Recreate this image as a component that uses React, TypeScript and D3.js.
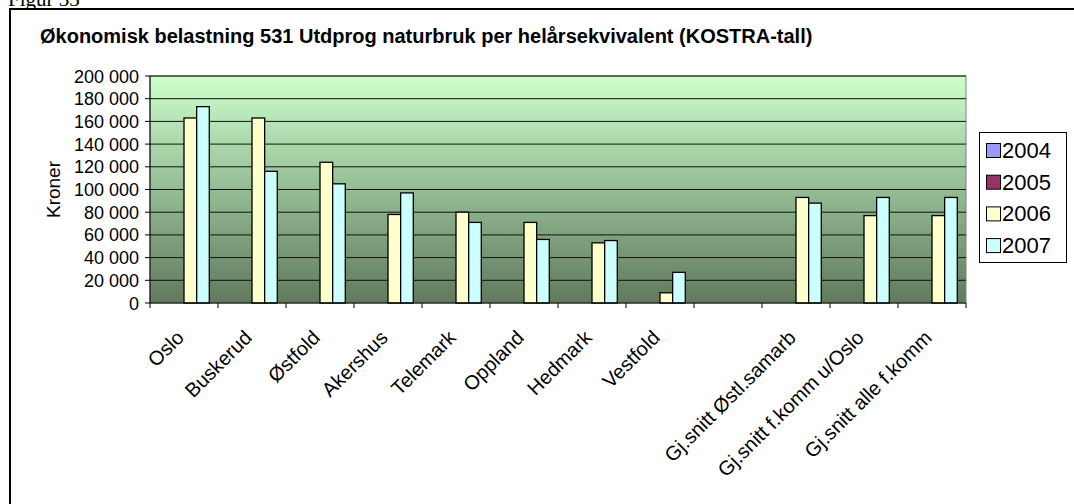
import React from "react";
import * as d3 from "d3";

const categories = [
  "Oslo", "Buskerud", "Østfold", "Akershus", "Telemark", "Oppland", "Hedmark", "Vestfold",
  "", "Gj.snitt Østl.samarb", "Gj.snitt f.komm u/Oslo", "Gj.snitt alle f.komm",
];
const seriesNames = ["2004", "2005", "2006", "2007"];
const v2004 = [0, 0, 0, 0, 0, 0, 0, 0, 0, 0, 0, 0];
const v2005 = [0, 0, 0, 0, 0, 0, 0, 0, 0, 0, 0, 0];
const v2006 = [163000, 163000, 124000, 78000, 80000, 71000, 53000, 9000, 0, 93000, 77000, 77000];
const v2007 = [173000, 116000, 105000, 97000, 71000, 56000, 55000, 27000, 0, 88000, 93000, 93000];
const yTicks = [0, 20000, 40000, 60000, 80000, 100000, 120000, 140000, 160000, 180000, 200000];
const colors = ["#9999FF", "#993366", "#FFFFCC", "#CCFFFF"];

const W = 1074, H = 504;
const plot = { l: 150, r: 966, t: 76, b: 303 };

export default function App() {
  const series = [v2004, v2005, v2006, v2007];
  const x = d3.scaleBand<string>().domain(categories.map((c, i) => String(i))).range([plot.l, plot.r]).paddingInner(0).paddingOuter(0);
  const y = d3.scaleLinear().domain([0, 200000]).range([plot.b, plot.t]);
  const bw = x.bandwidth();
  const barW = bw * 0.186;
  const groupW = barW * 4;
  const fmt = (v: number) => (v === 0 ? "0" : d3.format(",")(v).replace(/,/g, " "));

  return (
    <svg width={W} height={H} style={{ position: "absolute", left: 0, top: 0 }} fontFamily="Liberation Sans, Arial, sans-serif">
      <defs>
        <linearGradient id="bg" x1="0" y1="0" x2="0" y2="1">
          <stop offset="0" stopColor="#CCFFCC" />
          <stop offset="1" stopColor="#5F7A5C" />
        </linearGradient>
      </defs>
      <rect x={0} y={0} width={W} height={H} fill="#fff" />
      <text x={8} y={6} fontFamily="Liberation Serif, Times New Roman, serif" fontSize={21}>Figur 33</text>
      <rect x={10} y={9} width={W + 10} height={H + 10} fill="#fff" stroke="#000" strokeWidth={2} />
      <text x={40} y={43} fontSize={20} fontWeight="bold">Økonomisk belastning 531 Utdprog naturbruk per helårsekvivalent (KOSTRA-tall)</text>

      <rect x={plot.l} y={plot.t} width={plot.r - plot.l} height={plot.b - plot.t} fill="url(#bg)" stroke="#808080" strokeWidth={1} />
      {yTicks.slice(1).map((t) => (
        <line key={t} x1={plot.l} x2={plot.r} y1={y(t)} y2={y(t)} stroke="#111" strokeWidth={1} />
      ))}

      {categories.map((c, i) =>
        series.map((s, k) => {
          const v = s[i];
          if (!v) return null;
          const x0 = (x(String(i)) as number) + (bw - groupW) / 2 + k * barW;
          return (
            <rect key={i + "-" + k} x={x0} y={y(v)} width={barW} height={y(0) - y(v)} fill={colors[k]} stroke="#000" strokeWidth={1.3} />
          );
        })
      )}

      <line x1={plot.l} x2={plot.l} y1={plot.t} y2={plot.b} stroke="#000" />
      <line x1={plot.l} x2={plot.r} y1={plot.b} y2={plot.b} stroke="#000" />
      {yTicks.map((t) => (
        <g key={t}>
          <line x1={plot.l - 5} x2={plot.l} y1={y(t)} y2={y(t)} stroke="#000" />
          <text x={plot.l - 11} y={y(t) + 6.5} textAnchor="end" fontSize={18}>{fmt(t)}</text>
        </g>
      ))}
      {d3.range(categories.length + 1).map((i) => (
        <line key={i} x1={plot.l + i * bw} x2={plot.l + i * bw} y1={plot.b} y2={plot.b + 5} stroke="#000" />
      ))}
      {categories.map((c, i) => {
        const cx = (x(String(i)) as number) + bw / 2;
        return (
          <text key={i} transform={`translate(${cx + 1},${plot.b + 36}) rotate(-45)`} textAnchor="end" fontSize={20}>{c}</text>
        );
      })}
      <text transform={`translate(60,${(plot.t + plot.b) / 2}) rotate(-90)`} textAnchor="middle" fontSize={19}>Kroner</text>

      <rect x={979.5} y={132.5} width={87} height={130} fill="#fff" stroke="#000" strokeWidth={1} />
      {seriesNames.map((n, k) => (
        <g key={n}>
          <rect x={986.5} y={143.5 + k * 31.7} width={14} height={14} fill={colors[k]} stroke="#000" />
          <text x={1002} y={158 + k * 31.7} fontSize={22}>{n}</text>
        </g>
      ))}
    </svg>
  );
}
